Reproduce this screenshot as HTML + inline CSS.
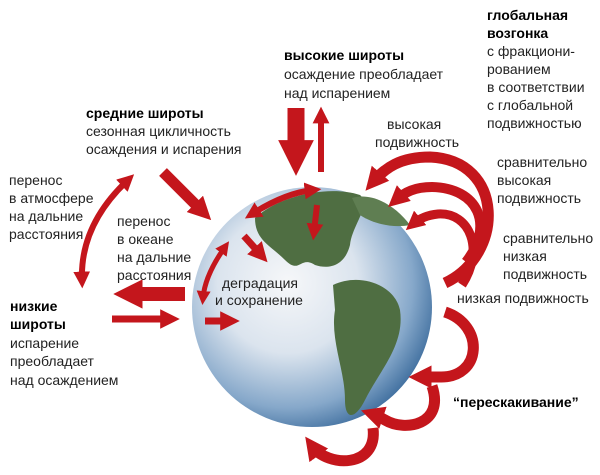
<!DOCTYPE html>
<html><head><meta charset="utf-8"><style>
html,body{margin:0;padding:0;background:#fff}
svg{display:block}
text{font-family:"Liberation Sans",Arial,sans-serif;font-size:14px;fill:#222}
.b{font-weight:bold;fill:#000}
</style></head><body>
<svg width="600" height="475" viewBox="0 0 600 475" xmlns="http://www.w3.org/2000/svg">
<defs>
<radialGradient id="g" cx="0.4" cy="0.4" r="0.65">
<stop offset="0" stop-color="#f6f7f9"/>
<stop offset="0.45" stop-color="#dbe4ee"/>
<stop offset="0.8" stop-color="#86a8ca"/>
<stop offset="1" stop-color="#3f6e9e"/>
</radialGradient>
<marker id="h" viewBox="0 0 10 10" refX="5" refY="5" markerWidth="2.8" markerHeight="2.8" orient="auto-start-reverse" markerUnits="strokeWidth"><path d="M0,0L10,5L0,10z" fill="#c4161c"/></marker>
<marker id="hb" viewBox="0 0 10 10" refX="5" refY="5" markerWidth="2.1" markerHeight="2.1" orient="auto-start-reverse" markerUnits="strokeWidth"><path d="M0,0L10,5L0,10z" fill="#c4161c"/></marker>
</defs>
<circle cx="312" cy="307" r="120" fill="url(#g)"/>
<path d="M255,218 C280,195 330,185 360,195 C372,205 352,225 350,245 C345,265 330,270 315,265 C300,255 300,275 285,260 C270,245 255,240 255,218z" fill="#4f6e42"/>
<path d="M333,285 C360,272 395,285 400,310 C405,345 380,370 365,400 C355,420 345,420 345,400 C345,370 330,340 335,310z" fill="#4f6e42"/>
<path d="M352,198 C372,192 395,205 410,225 C395,228 375,225 360,215z" fill="#5f7e52"/>
<g fill="none" stroke="#c4161c" stroke-linecap="butt">
<path d="M296,108 V158" stroke-width="17" marker-end="url(#hb)"/>
<path d="M321,172 V115" stroke-width="6" marker-end="url(#h)"/>
<path d="M163,172 L203,212" stroke-width="11" marker-end="url(#hb)"/>
<path d="M128,180 Q80,225 82,280" stroke-width="6" marker-start="url(#h)" marker-end="url(#h)"/>
<path d="M185,294 H128" stroke-width="14" marker-end="url(#hb)"/>
<path d="M112,319 H170" stroke-width="7" marker-end="url(#h)"/>
<path d="M225,247 Q205,275 203,298" stroke-width="5" marker-start="url(#h)" marker-end="url(#h)"/>
<path d="M205,321 H230" stroke-width="7" marker-end="url(#h)"/>
<path d="M252,214 Q285,193 313,190" stroke-width="6" marker-start="url(#h)" marker-end="url(#h)"/>
<path d="M317,205 L314,232" stroke-width="6" marker-end="url(#h)"/>
<path d="M244,236 L261,255" stroke-width="7" marker-end="url(#h)"/>
<path d="M445,283 C505,255 505,160 430,157 C400,157 385,168 373,182" stroke-width="11" marker-end="url(#hb)"/>
<path d="M466,262 C495,225 478,188 432,187 C415,187 405,192 396,200" stroke-width="10" marker-end="url(#hb)"/>
<path d="M462,285 C485,250 470,212 438,214 C428,215 420,218 413,224" stroke-width="9" marker-end="url(#hb)"/>
<path d="M445,312 C485,325 482,378 440,377 C430,377 424,377 420,377" stroke-width="11" marker-end="url(#hb)"/>
<path d="M432,386 C445,425 405,432 385,420 C378,416 375,415 372,414" stroke-width="11" marker-end="url(#hb)"/>
<path d="M373,428 C378,468 328,468 312,446" stroke-width="11" marker-end="url(#hb)"/>
</g>
<text x="284" y="60" class="b">высокие широты</text>
<text x="284" y="79">осаждение преобладает</text>
<text x="284" y="98">над испарением</text>
<text x="487" y="20" class="b">глобальная</text>
<text x="487" y="38" class="b">возгонка</text>
<text x="487" y="56">с фракциони-</text>
<text x="487" y="74">рованием</text>
<text x="487" y="92">в соответствии</text>
<text x="487" y="110">с глобальной</text>
<text x="487" y="128">подвижностью</text>
<text x="86" y="118" class="b">средние широты</text>
<text x="86" y="136">сезонная цикличность</text>
<text x="86" y="154">осаждения и испарения</text>
<text x="387" y="129">высокая</text>
<text x="375" y="147">подвижность</text>
<text x="497" y="167">сравнительно</text>
<text x="497" y="185">высокая</text>
<text x="497" y="203">подвижность</text>
<text x="503" y="243">сравнительно</text>
<text x="503" y="261">низкая</text>
<text x="503" y="279">подвижность</text>
<text x="457" y="303">низкая подвижность</text>
<text x="453" y="407" class="b">“перескакивание”</text>
<text x="9" y="185">перенос</text>
<text x="9" y="203">в атмосфере</text>
<text x="9" y="221">на дальние</text>
<text x="9" y="239">расстояния</text>
<text x="117" y="226">перенос</text>
<text x="117" y="244">в океане</text>
<text x="117" y="262">на дальние</text>
<text x="117" y="280">расстояния</text>
<text x="222" y="288">деградация</text>
<text x="215" y="305">и сохранение</text>
<text x="10" y="311" class="b">низкие</text>
<text x="10" y="329" class="b">широты</text>
<text x="10" y="348">испарение</text>
<text x="10" y="366">преобладает</text>
<text x="10" y="385">над осаждением</text>
</svg>
</body></html>
